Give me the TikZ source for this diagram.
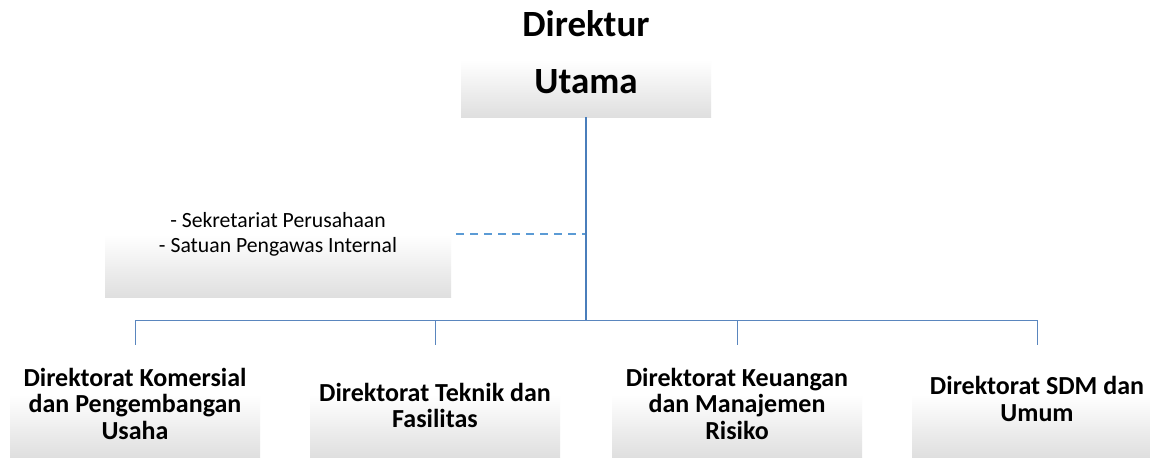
\documentclass[tikz,border=0pt]{standalone}
\usepackage{fontspec}
\setmainfont{Carlito}
\definecolor{lineblue}{HTML}{4A7EBB}
\definecolor{barblue}{HTML}{5A86BE}
\definecolor{dashblue}{HTML}{5B9BD5}
\definecolor{boxgray}{HTML}{DFDFDF}
\begin{document}
\begin{tikzpicture}[x=1pt,y=-1pt,
  gbox/.style={draw=none, inner sep=0pt, top color=white, bottom color=boxgray},
  bigtext/.style={inner sep=0pt, font={\fontsize{37}{44}\selectfont\bfseries}},
  dirtext/.style={inner sep=0pt, align=center, font={\fontsize{26}{26.5}\selectfont\bfseries}},
  smalltext/.style={inner sep=0pt, align=center, font={\fontsize{21.7}{25}\selectfont}},
  mainline/.style={draw=lineblue, line width=1.6pt},
  barline/.style={draw=barblue, line width=1pt},
  dashline/.style={draw=dashblue, line width=1.6pt, dash pattern=on 8pt off 6pt}]
\useasboundingbox (0,0) rectangle (1150,466);
\fill[white] (0,0) rectangle (1150,466);

% top box
\node[gbox, minimum width=250pt, minimum height=57pt] (dirut) at (586,88.5) {};
\node[bigtext, anchor=base] (dirtxt1) at (586,36) {Direktur};
\node[bigtext, anchor=base] (dirtxt2) at (586,93) {Utama};

% left box
\node[gbox, minimum width=346pt, minimum height=62pt] (sek) at (278,266) {};
\node[smalltext] (sektxt) at (278,234.6) {- Sekretariat Perusahaan\\- Satuan Pengawas Internal};

% bottom boxes
\node[gbox, minimum width=250pt, minimum height=62pt] (k1) at (135,426) {};
\node[gbox, minimum width=250pt, minimum height=62pt] (k2) at (435,426) {};
\node[gbox, minimum width=250pt, minimum height=62pt] (k3) at (737,426) {};
\node[gbox, minimum width=250pt, minimum height=62pt] (k4) at (1037,426) {};
\node[dirtext] (t1) at (135,403.8) {Direktorat Komersial\\dan Pengembangan\\Usaha};
\node[dirtext] (t2) at (435,405.3) {Direktorat Teknik dan\\Fasilitas};
\node[dirtext] (t3) at (737,403.8) {Direktorat Keuangan\\dan Manajemen\\Risiko};
\node[dirtext] (t4) at (1037,398.8) {Direktorat SDM dan\\Umum};

% connectors
\coordinate (j) at (586,320);
\coordinate (dj) at (586,234);
\coordinate (ds) at (456,234);
\coordinate (d1) at (135,320);
\coordinate (d2) at (435,320);
\coordinate (d3) at (737,320);
\coordinate (d4) at (1037,320);
\coordinate (e1) at (135,345);
\coordinate (e2) at (435,345);
\coordinate (e3) at (737,345);
\coordinate (e4) at (1037,345);

\draw[dashline] (ds) -- (dj);
\draw[barline] (d1) -- (d4);
\draw[barline] (d1) -- (e1);
\draw[barline] (d2) -- (e2);
\draw[barline] (d3) -- (e3);
\draw[barline] (d4) -- (e4);
\draw[mainline] (dirut.south) -- (j);
\end{tikzpicture}
\end{document}
